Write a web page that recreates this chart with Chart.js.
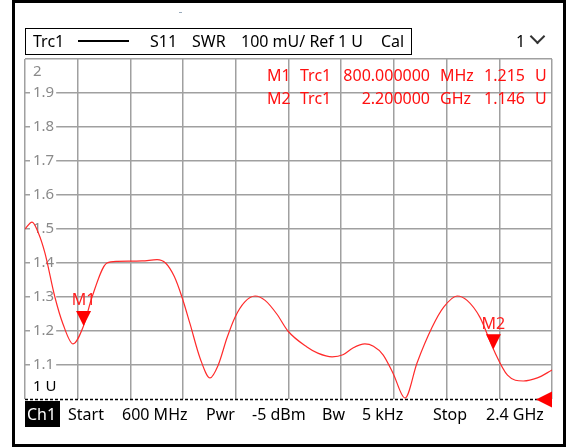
<!DOCTYPE html>
<html>
<head>
<meta charset="utf-8">
<script src="https://cdn.jsdelivr.net/npm/chart.js@4"></script>
<style>
  html, body { margin:0; padding:0; background:#fff; }
  body { width:569px; height:447px; position:relative; overflow:hidden; font-family:"Noto Sans", sans-serif; }
  #c { position:absolute; left:0; top:0; }
  .t { position:absolute; white-space:nowrap; font-size:16px; line-height:22px; height:22px; }
  #frame { position:absolute; left:12px; top:0; width:554px; height:447px; border:3px solid #000; box-sizing:border-box; pointer-events:none; }
  #legend { position:absolute; left:25px; top:28px; width:387px; height:27px; border:1px solid #000; box-sizing:border-box; }
  .red { color:#ff1010; }
  #chev { position:absolute; left:532px; top:31px; width:9px; height:9px; border-right:2px solid #333; border-bottom:2px solid #333; transform:rotate(45deg); }
  #ch1 { position:absolute; left:25px; top:401px; width:35px; height:26px; background:#000; }
</style>
</head>
<body>
<canvas id="c" width="569" height="447"></canvas>
<div id="frame"></div>
<div style="position:absolute;left:179px;top:12px;width:3px;height:1px;background:#9ab;"></div>
<div id="legend"></div>
<div class="t" style="left:33px;top:30px;">Trc1</div>
<div style="position:absolute;left:78px;top:40px;width:51px;height:2px;background:#000;"></div>
<div class="t" style="left:150px;top:30px;">S11</div>
<div class="t" style="left:192px;top:30px;">SWR</div>
<div class="t" style="left:241px;top:30px;">100 mU/ Ref 1 U</div>
<div class="t" style="left:381px;top:30px;">Cal</div>
<div class="t" style="left:516px;top:30px;">1</div>
<div id="chev"></div>

<div class="t red" style="left:267px;top:64px;">M1</div>
<div class="t red" style="left:300px;top:64px;">Trc1</div>
<div class="t red" style="right:139px;top:64px;">800.000000</div>
<div class="t red" style="left:440px;top:64px;">MHz</div>
<div class="t red" style="right:44px;top:64px;">1.215</div>
<div class="t red" style="left:535px;top:64px;">U</div>
<div class="t red" style="left:267px;top:87px;">M2</div>
<div class="t red" style="left:300px;top:87px;">Trc1</div>
<div class="t red" style="right:139px;top:87px;">2.200000</div>
<div class="t red" style="left:440px;top:87px;">GHz</div>
<div class="t red" style="right:44px;top:87px;">1.146</div>
<div class="t red" style="left:535px;top:87px;">U</div>

<div id="ch1"></div>
<div class="t" style="left:27px;top:403px;color:#fff;">Ch1</div>
<div class="t" style="left:68px;top:403px;">Start</div>
<div class="t" style="left:122px;top:403px;">600 MHz</div>
<div class="t" style="left:206px;top:403px;">Pwr</div>
<div class="t" style="left:252px;top:403px;">-5 dBm</div>
<div class="t" style="left:322px;top:403px;">Bw</div>
<div class="t" style="left:362px;top:403px;">5 kHz</div>
<div class="t" style="left:433px;top:403px;">Stop</div>
<div class="t" style="left:486px;top:403px;">2.4 GHz</div>

<script>
// Frequency (MHz) and SWR values
const freqMHz = [600, 624, 645, 668, 702, 730, 764, 800, 829, 880, 914, 1000, 1051, 1080, 1110, 1136, 1164, 1198, 1232, 1260, 1290, 1317, 1350, 1386, 1420, 1460, 1498, 1563, 1600, 1649, 1686, 1720, 1761, 1790, 1823, 1857, 1898, 1939, 1990, 2030, 2076, 2110, 2154, 2200, 2248, 2302, 2350, 2400];
const swr     = [1.50, 1.52, 1.49, 1.43, 1.30, 1.22, 1.162, 1.215, 1.30, 1.40, 1.405, 1.406, 1.41, 1.40, 1.36, 1.30, 1.22, 1.12, 1.062, 1.10, 1.18, 1.24, 1.285, 1.303, 1.29, 1.25, 1.20, 1.153, 1.135, 1.124, 1.13, 1.15, 1.162, 1.155, 1.13, 1.076, 1.003, 1.106, 1.21, 1.27, 1.303, 1.29, 1.24, 1.146, 1.07, 1.053, 1.062, 1.085];

// Markers
const markerNames = ['M1', 'M2'];
const markerFreq  = [800, 2200];
const markerValue = [1.215, 1.146];

// Axis settings
const xStartMHz = 600, xStopMHz = 2400, xStepMHz = 180;
const yMin = 1, yMax = 2, yStep = 0.1;
const topLabel = '2', bottomLabel = '1 U';

const points = freqMHz.map((f, i) => ({ x: f, y: swr[i] }));

const overlay = {
  id: 'overlay',
  afterDatasetsDraw(chart) {
    const { ctx, chartArea: a, scales: { x, y } } = chart;
    ctx.save();
    const y1 = Math.round(y.getPixelForValue(yMin)) + 0.5;
    ctx.strokeStyle = '#000';
    ctx.lineWidth = 1.3;
    ctx.setLineDash([3, 2]);
    ctx.beginPath(); ctx.moveTo(a.left, y1); ctx.lineTo(a.right - 14, y1); ctx.stroke();
    ctx.setLineDash([]);
    ctx.fillStyle = '#ff0000';
    ctx.beginPath();
    ctx.moveTo(a.right - 16, y1);
    ctx.lineTo(a.right, y1 - 8);
    ctx.lineTo(a.right, y1 + 8);
    ctx.closePath(); ctx.fill();
    ctx.font = '16px "Noto Sans"';
    ctx.textAlign = 'center';
    ctx.textBaseline = 'middle';
    markerNames.forEach((n, i) => {
      const px = x.getPixelForValue(markerFreq[i]);
      const py = y.getPixelForValue(markerValue[i]);
      ctx.fillStyle = '#ff0000';
      ctx.beginPath();
      ctx.moveTo(px, py);
      ctx.lineTo(px - 7.5, py - 15);
      ctx.lineTo(px + 7.5, py - 15);
      ctx.closePath(); ctx.fill();
      ctx.fillStyle = '#ff2020';
      ctx.fillText(n, px, py - 25);
    });
    ctx.textAlign = 'left';
    ctx.font = '15px "Noto Sans"';
    ctx.fillStyle = '#8a8a8a';
    ctx.fillText(topLabel, a.left + 8, y.getPixelForValue(yMax) + 13);
    ctx.fillStyle = '#000';
    ctx.fillText(bottomLabel, a.left + 8, y.getPixelForValue(yMin) - 12);
    ctx.restore();
  }
};

new Chart(document.getElementById('c'), {
  type: 'line',
  data: {
    datasets: [{
      data: points,
      borderColor: '#ff2a2a',
      borderWidth: 1.2,
      pointRadius: 0,
      fill: false,
      cubicInterpolationMode: 'monotone'
    }]
  },
  options: {
    responsive: false,
    animation: false,
    events: [],
    layout: { padding: { left: 25, top: 59, right: 17, bottom: 48 } },
    plugins: { legend: { display: false }, tooltip: { enabled: false } },
    scales: {
      x: {
        type: 'linear', min: xStartMHz, max: xStopMHz,
        ticks: { display: false, stepSize: xStepMHz },
        grid: { color: '#a0a0a0', lineWidth: 1.5, drawTicks: false },
        border: { display: false },
        afterFit: (s) => { s.height = 0; }
      },
      y: {
        type: 'linear', min: yMin, max: yMax,
        afterFit: (s) => { s.width = 0; },
        ticks: {
          stepSize: yStep, mirror: true, padding: 8,
          color: '#8a8a8a',
          font: { family: 'Noto Sans', size: 15 },
          callback: (v) => (Math.abs(v - yMin) < 1e-6 || Math.abs(v - yMax) < 1e-6) ? '' : v.toFixed(1),
          showLabelBackdrop: (c) => c.tick && c.tick.value > yMin + 0.05 && c.tick.value < yMax - 0.05,
          backdropColor: '#fff',
          backdropPadding: { left: 3, right: 2, top: 0, bottom: 0 }
        },
        grid: {
          color: (c) => (c.tick && Math.abs(c.tick.value - yMin) < 1e-6) ? 'rgba(0,0,0,0)' : '#a0a0a0',
          lineWidth: 1.5, drawTicks: false
        },
        border: { display: false }
      }
    }
  },
  plugins: [overlay]
});
</script>
</body>
</html>
